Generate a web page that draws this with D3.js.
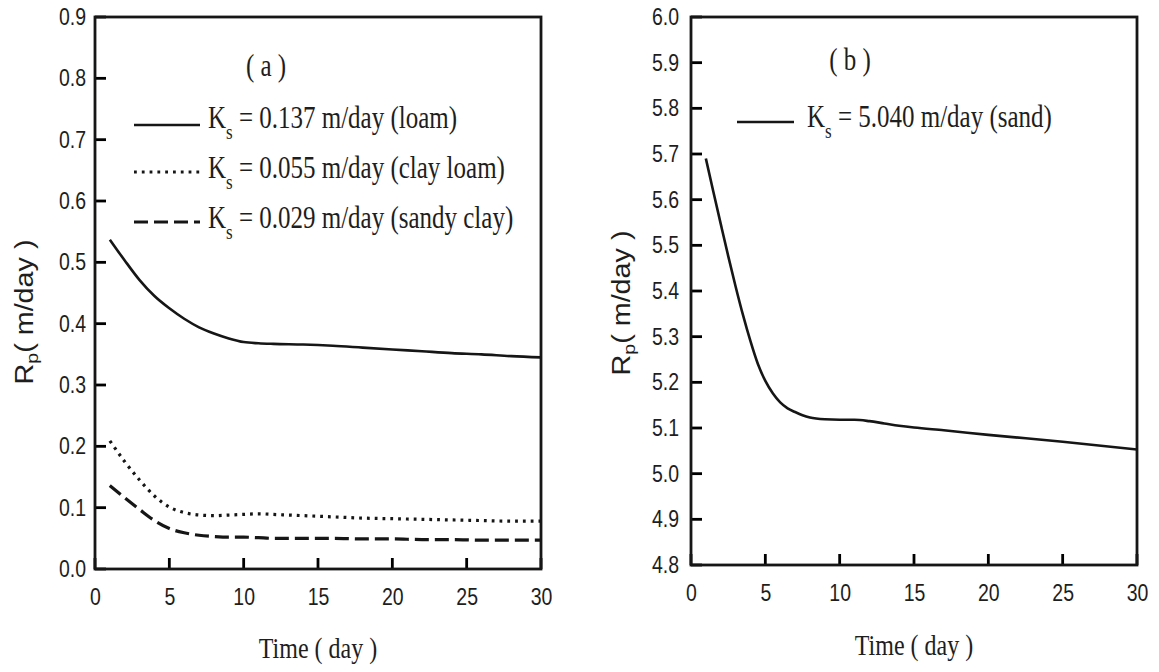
<!DOCTYPE html>
<html><head><meta charset="utf-8">
<script src="https://cdn.jsdelivr.net/npm/d3@7"></script>
<style>body{margin:0;background:#fff} svg{display:block}</style>
</head><body><svg id="c" width="1159" height="672"></svg>
<script>
// ---- data ----
const daysA = [1,2,3,4,5,6,7,8,9,10,11,12,14,16,18,20,22,24,26,28,30];
const loam = [0.537,0.503,0.471,0.445,0.425,0.408,0.394,0.384,0.376,0.370,0.368,0.367,0.366,0.364,0.361,0.358,0.355,0.352,0.350,0.347,0.345];
const clayLoam = [0.209,0.175,0.145,0.119,0.101,0.092,0.088,0.087,0.088,0.089,0.090,0.089,0.087,0.085,0.083,0.082,0.081,0.080,0.079,0.078,0.078];
const sandyClay = [0.136,0.116,0.097,0.079,0.066,0.059,0.055,0.053,0.052,0.052,0.051,0.050,0.050,0.050,0.049,0.049,0.048,0.048,0.047,0.047,0.047];
const daysB = [1,1.5,2,2.5,3,3.5,4,4.5,5,5.5,6,6.5,7,7.5,8,9,10,11,12,13,14,15,17,20,25,30];
const sand = [5.69,5.618,5.547,5.477,5.41,5.347,5.29,5.24,5.203,5.176,5.156,5.143,5.135,5.128,5.123,5.119,5.118,5.118,5.115,5.11,5.105,5.101,5.095,5.085,5.07,5.053];
const xTicks = [0,5,10,15,20,25,30];
const yTicksA = [0,0.1,0.2,0.3,0.4,0.5,0.6,0.7,0.8,0.9];
const yTicksB = [4.8,4.9,5.0,5.1,5.2,5.3,5.4,5.5,5.6,5.7,5.8,5.9,6.0];
const legendA = ["0.137 m/day (loam)", "0.055 m/day (clay loam)", "0.029 m/day (sandy clay)"];
const legendB = ["5.040 m/day (sand)"];
const panelLabels = ["( a )", "( b )"];
const xTitle = "Time ( day )";

// ---- styling ----
const INK = "#161616";
const SANS = "'Liberation Sans', Arial, sans-serif";
const SERIF = "'Liberation Serif', 'Times New Roman', serif";
const SY_SANS = 1.2, SY_SERIF = 1.25;
const TICK = 11;
const styles = {
  solid: {dash: null, w: 2.6},
  dotted: {dash: "2.8,5", w: 3.2},
  dashed: {dash: "14,6", w: 3.2}
};

const svg = d3.select("#c");

function panel(cfg) {
  const x = d3.scaleLinear().domain([0,30]).range([cfg.left, cfg.right]);
  const y = d3.scaleLinear().domain(cfg.yDomain).range([cfg.bottom, cfg.top]);
  const g = svg.append("g");

  // tick labels via d3 axis
  const gx = g.append("g").attr("transform", `translate(0,${cfg.bottom})`)
    .call(d3.axisBottom(x).tickValues(xTicks).tickSize(0)
      .tickPadding(16).tickFormat(d3.format("d")));
  gx.select(".domain").remove();
  gx.selectAll("text").attr("font-size", 19.5).attr("font-family", SANS)
    .attr("fill", "#1e1e1e").attr("transform", `scale(1,${SY_SANS})`);

  const gy = g.append("g").attr("transform", `translate(${cfg.left},0)`)
    .call(d3.axisLeft(y).tickValues(cfg.yTicks).tickSize(0)
      .tickPadding(cfg.yPad).tickFormat(d3.format(".1f")));
  gy.select(".domain").remove();
  gy.selectAll("text").attr("font-size", 19.5).attr("font-family", SANS)
    .attr("fill", "#1e1e1e").attr("transform", `scale(1,${SY_SANS})`);

  // inward tick marks
  g.append("g").selectAll("line").data(xTicks).join("line")
    .attr("x1", d => x(d)).attr("x2", d => x(d))
    .attr("y1", cfg.bottom).attr("y2", cfg.bottom - TICK)
    .attr("stroke", "#000").attr("stroke-width", 2.8);
  g.append("g").selectAll("line").data(cfg.yTicks).join("line")
    .attr("y1", d => y(d)).attr("y2", d => y(d))
    .attr("x1", cfg.left).attr("x2", cfg.left + TICK)
    .attr("stroke", "#000").attr("stroke-width", 2.8);

  // frame
  g.append("rect").attr("x", cfg.left).attr("y", cfg.top)
    .attr("width", cfg.right - cfg.left).attr("height", cfg.bottom - cfg.top)
    .attr("fill", "none").attr("stroke", INK).attr("stroke-width", 2.8);

  // series
  const line = d3.line().x(d => x(d[0])).y(d => y(d[1])).curve(d3.curveMonotoneX);
  cfg.series.forEach(s => {
    const st = styles[s.style];
    g.append("path").datum(cfg.days.map((d,i) => [d, s.values[i]]))
      .attr("d", line).attr("fill", "none").attr("stroke", INK)
      .attr("stroke-width", st.w).attr("stroke-dasharray", st.dash);
  });

  // legend
  cfg.series.forEach((s, i) => {
    const st = styles[s.style];
    const ly = cfg.legY[i];
    g.append("line").attr("x1", cfg.legX1).attr("x2", cfg.legX2)
      .attr("y1", ly).attr("y2", ly).attr("stroke", INK)
      .attr("stroke-width", st.w).attr("stroke-dasharray", st.dash);
    const t = g.append("text").attr("font-family", SERIF).attr("font-size", 25)
      .attr("fill", "#1e1e1e")
      .attr("transform", `translate(${cfg.legTextX},${cfg.legBase[i]}) scale(1,${SY_SERIF})`);
    t.append("tspan").text("K");
    t.append("tspan").attr("font-size", 17).attr("dy", 9).text("s");
    t.append("tspan").attr("dy", -9).text(" = " + s.label);
  });

  // panel label
  g.append("text").attr("font-family", SERIF).attr("font-size", 25).attr("fill", "#1e1e1e")
    .attr("text-anchor", "middle")
    .attr("transform", `translate(${cfg.labX},${cfg.labY}) scale(1,${SY_SERIF})`)
    .text(cfg.label);

  // x title
  g.append("text").attr("font-family", SERIF).attr("font-size", 24).attr("fill", "#1e1e1e")
    .attr("text-anchor", "middle")
    .attr("transform", `translate(${(cfg.left+cfg.right)/2},${cfg.xTitleY}) scale(1,${SY_SERIF})`)
    .text(xTitle);

  // y title
  const yt = g.append("text").attr("font-family", SANS).attr("font-size", 25).attr("fill", "#1e1e1e")
    .attr("text-anchor", "middle")
    .attr("transform", `translate(${cfg.yTitleX},${cfg.yTitleY}) rotate(-90) scale(1.15,1)`);
  yt.append("tspan").text("R");
  yt.append("tspan").attr("font-size", 17).attr("dy", 5).text("p");
  yt.append("tspan").attr("dy", -5).text("( m/day )");
}

panel({
  left: 95, right: 541, top: 17, bottom: 569, yDomain: [0, 0.9], yTicks: yTicksA, yPad: 9,
  days: daysA,
  series: [
    {values: loam, style: "solid", label: legendA[0]},
    {values: clayLoam, style: "dotted", label: legendA[1]},
    {values: sandyClay, style: "dashed", label: legendA[2]}
  ],
  legX1: 134, legX2: 200, legY: [125, 172, 222], legTextX: 208, legBase: [128, 178, 228],
  label: panelLabels[0], labX: 266, labY: 76,
  xTitleY: 658, yTitleX: 33, yTitleY: 312
});

panel({
  left: 691, right: 1137, top: 17, bottom: 565, yDomain: [4.8, 6.0], yTicks: yTicksB, yPad: 12,
  days: daysB,
  series: [
    {values: sand, style: "solid", label: legendB[0]}
  ],
  legX1: 737, legX2: 794, legY: [122], legTextX: 807, legBase: [127],
  label: panelLabels[1], labX: 850, labY: 70,
  xTitleY: 655, yTitleX: 630, yTitleY: 303
});
</script>
</body></html>
